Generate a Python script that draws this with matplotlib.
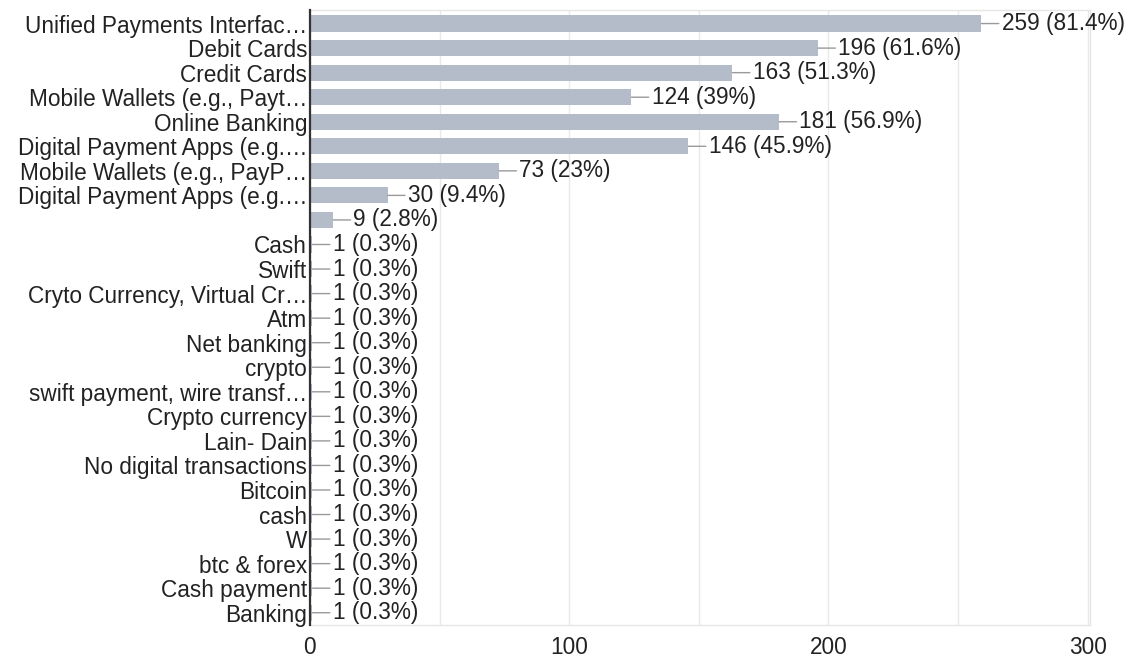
import matplotlib
matplotlib.use("Agg")
import matplotlib.pyplot as plt
from matplotlib.ticker import MultipleLocator, FixedLocator

plt.rcParams['font.family'] = ['Liberation Sans', 'DejaVu Sans']

categories = [
    "Unified Payments Interfac…", "Debit Cards", "Credit Cards",
    "Mobile Wallets (e.g., Payt…", "Online Banking", "Digital Payment Apps (e.g.…",
    "Mobile Wallets (e.g., PayP…", "Digital Payment Apps (e.g.…", "",
    "Cash", "Swift", "Cryto Currency, Virtual Cr…", "Atm", "Net banking",
    "crypto", "swift payment, wire transf…", "Crypto currency", "Lain- Dain",
    "No digital transactions", "Bitcoin", "cash", "W", "btc & forex",
    "Cash payment", "Banking",
]
counts = [259, 196, 163, 124, 181, 146, 73, 30, 9] + [1] * 16
percents = [81.4, 61.6, 51.3, 39, 56.9, 45.9, 23, 9.4, 2.8] + [0.3] * 16
x_ticks = [0, 100, 200, 300]

FS = 16.3

fig = plt.figure(figsize=(11.31, 6.57), dpi=100)
ax = fig.add_axes([0.274, 0.0487, 0.690, 0.936])

ypos = list(range(len(categories)))
ax.barh(ypos, counts, height=0.66, color="#b3bcc8", zorder=2)

for y, c, p in zip(ypos, counts, percents):
    ax.annotate(f"{c} ({p:g}%)", xy=(c, y), xytext=(14.5, 0),
                textcoords="offset points", ha="left", va="center",
                fontsize=FS, color="#222222",
                arrowprops=dict(arrowstyle="-", color="#9a9a9a", lw=1.0,
                                shrinkA=0, shrinkB=0), zorder=3)

ax.set_xlim(0, 301)
ax.set_ylim(len(categories) - 0.5, -0.55)
ax.set_yticks(ypos)
ax.set_yticklabels(categories, fontsize=FS, color="#222222")
ax.xaxis.set_major_locator(FixedLocator(x_ticks))
ax.xaxis.set_minor_locator(MultipleLocator(50))
ax.tick_params(axis="both", which="both", length=0)
ax.tick_params(axis="y", pad=2)
ax.tick_params(axis="x", pad=8, labelsize=FS, labelcolor="#222222")
ax.grid(axis="x", which="both", color="#e9e9e9", lw=1, zorder=0)

for side in ("top", "right", "bottom"):
    ax.spines[side].set_color("#e6e6e6")
    ax.spines[side].set_linewidth(1)
ax.spines["left"].set_color("#333333")
ax.spines["left"].set_linewidth(1.6)
ax.spines["left"].set_zorder(4)

fig.savefig("out.png", dpi=100, facecolor="white")
